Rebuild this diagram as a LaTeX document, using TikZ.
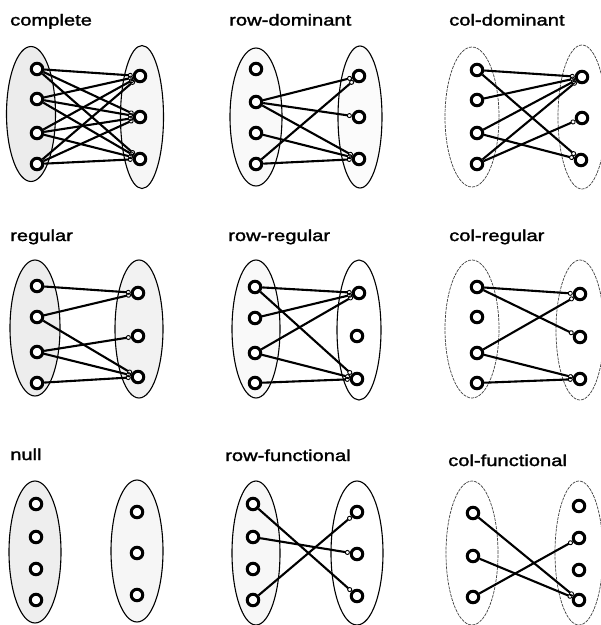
\documentclass[tikz,border=0pt]{standalone}
\usepackage{fontspec}
\newfontfamily\ttlfont[FakeStretch=1.26,FakeBold=1.8]{Liberation Sans}
\usetikzlibrary{arrows.meta}
\begin{document}
\begin{tikzpicture}[x=1pt,y=-1pt,
  vtx/.style={circle,draw,line width=3pt,minimum size=11.5pt,inner sep=0pt,fill=white},
  edge/.style={line width=2.1pt,-{Circle[open,length=5pt,width=5pt,line width=0.9pt]}},
  setA/.style={draw,line width=1.1pt},
  setB/.style={draw=black!75,line width=0.7pt,dash pattern=on 3pt off 1pt},
  ttl/.style={anchor=base west,inner sep=0pt,font=\ttlfont\fontsize{16}{19}\selectfont}]
\useasboundingbox (0,0) rectangle (601,625);
\clip (0,0) rectangle (601,625);

% ---------- complete ----------
\node[ttl] (t1) at (10,25.5) {complete};
\draw[setA,fill=gray!15] (31,114) ellipse [x radius=24.5pt,y radius=67.5pt];
\draw[setA,fill=gray!7] (142,117) ellipse [x radius=21.5pt,y radius=71.5pt];
\node[vtx] (a1) at (37,69) {};
\node[vtx] (a2) at (37,99) {};
\node[vtx] (a3) at (37,133) {};
\node[vtx] (a4) at (37,164) {};
\node[vtx] (b1) at (140,76) {};
\node[vtx] (b2) at (140,117) {};
\node[vtx] (b3) at (140,159) {};
\foreach \i in {1,...,4}{\foreach \j in {1,2,3}{\draw[edge] (a\i) -- (b\j);}}

% ---------- row-dominant ----------
\node[ttl] (t2) at (229,25.5) {row-dominant};
\draw[setA,fill=gray!5] (256,117) ellipse [x radius=26pt,y radius=69pt];
\draw[setA,fill=gray!3] (360,117) ellipse [x radius=22pt,y radius=71pt];
\node[vtx] (c1) at (256,69) {};
\node[vtx] (c2) at (256,102) {};
\node[vtx] (c3) at (256,133) {};
\node[vtx] (c4) at (256,164) {};
\node[vtx] (d1) at (359,76) {};
\node[vtx] (d2) at (359,117) {};
\node[vtx] (d3) at (359,159) {};
\draw[edge] (c2) -- (d1);
\draw[edge] (c2) -- (d2);
\draw[edge] (c2) -- (d3);
\draw[edge] (c3) -- (d3);
\draw[edge] (c4) -- (d1);
\draw[edge] (c4) -- (d3);

% ---------- col-dominant ----------
\node[ttl] (t3) at (449,25.5) {col-dominant};
\draw[setB] (472,117) ellipse [x radius=27pt,y radius=70pt];
\draw[setB] (582,117) ellipse [x radius=24pt,y radius=72pt];
\node[vtx] (e1) at (477,70) {};
\node[vtx] (e2) at (477,100) {};
\node[vtx] (e3) at (477,133) {};
\node[vtx] (e4) at (477,164) {};
\node[vtx] (f1) at (582,77) {};
\node[vtx] (f2) at (582,118) {};
\node[vtx] (f3) at (581,160) {};
\draw[edge] (e1) -- (f1);
\draw[edge] (e1) -- (f3);
\draw[edge] (e2) -- (f1);
\draw[edge] (e3) -- (f1);
\draw[edge] (e3) -- (f3);
\draw[edge] (e4) -- (f1);
\draw[edge] (e4) -- (f2);

% ---------- regular ----------
\node[ttl] (t4) at (10,241) {regular};
\draw[setA,fill=gray!14] (35,328) ellipse [x radius=25pt,y radius=68pt];
\draw[setA,fill=gray!10] (139,329) ellipse [x radius=24pt,y radius=69pt];
\node[vtx] (g1) at (37,286) {};
\node[vtx] (g2) at (37,317) {};
\node[vtx] (g3) at (37,352) {};
\node[vtx] (g4) at (37,383) {};
\node[vtx] (h1) at (138,293) {};
\node[vtx] (h2) at (138,336) {};
\node[vtx] (h3) at (138,377) {};
\draw[edge] (g1) -- (h1);
\draw[edge] (g2) -- (h1);
\draw[edge] (g2) -- (h3);
\draw[edge] (g3) -- (h2);
\draw[edge] (g3) -- (h3);
\draw[edge] (g4) -- (h3);

% ---------- row-regular ----------
\node[ttl] (t5) at (228,241) {row-regular};
\draw[setA,fill=gray!5] (256,329) ellipse [x radius=24pt,y radius=69pt];
\draw[setA] (359,330) ellipse [x radius=22pt,y radius=70pt];
\node[vtx] (i1) at (255,287) {};
\node[vtx] (i2) at (255,318) {};
\node[vtx] (i3) at (255,353) {};
\node[vtx] (i4) at (255,383) {};
\node[vtx] (j1) at (359,293) {};
\node[vtx] (j2) at (357,336) {};
\node[vtx] (j3) at (357,379) {};
\draw[edge] (i1) -- (j1);
\draw[edge] (i1) -- (j3);
\draw[edge] (i2) -- (j1);
\draw[edge] (i3) -- (j1);
\draw[edge] (i3) -- (j3);
\draw[edge] (i4) -- (j3);

% ---------- col-regular ----------
\node[ttl] (t6) at (449,241) {col-regular};
\draw[setB] (472,329) ellipse [x radius=27pt,y radius=69pt];
\draw[setB] (580,330) ellipse [x radius=24pt,y radius=70pt];
\node[vtx] (k1) at (477,287) {};
\node[vtx] (k2) at (477,317) {};
\node[vtx] (k3) at (477,353) {};
\node[vtx] (k4) at (477,383) {};
\node[vtx] (l1) at (580,294) {};
\node[vtx] (l2) at (580,337) {};
\node[vtx] (l3) at (580,379) {};
\draw[edge] (k1) -- (l1);
\draw[edge] (k1) -- (l2);
\draw[edge] (k3) -- (l1);
\draw[edge] (k3) -- (l3);
\draw[edge] (k4) -- (l3);

% ---------- null ----------
\node[ttl] (t7) at (10,460) {null};
\draw[setA,fill=gray!13] (35,552) ellipse [x radius=26pt,y radius=71pt];
\draw[setA,fill=gray!7] (137,551) ellipse [x radius=26pt,y radius=71pt];
\node[vtx] (m1) at (36,504) {};
\node[vtx] (m2) at (36,537) {};
\node[vtx] (m3) at (36,569) {};
\node[vtx] (m4) at (36,600) {};
\node[vtx] (n1) at (137,512) {};
\node[vtx] (n2) at (137,553) {};
\node[vtx] (n3) at (137,595) {};

% ---------- row-functional ----------
\node[ttl] (t8) at (225,461) {row-functional};
\draw[setA,fill=gray!6] (256,553) ellipse [x radius=24pt,y radius=72pt];
\draw[setA] (357,553) ellipse [x radius=26pt,y radius=72pt];
\node[vtx] (o1) at (253,504) {};
\node[vtx] (o2) at (253,537) {};
\node[vtx] (o3) at (253,569) {};
\node[vtx] (o4) at (253,600) {};
\node[vtx] (q1) at (357,512) {};
\node[vtx] (q2) at (357,554) {};
\node[vtx] (q3) at (357,596) {};
\draw[edge] (o1) -- (q3);
\draw[edge] (o2) -- (q2);
\draw[edge] (o4) -- (q1);

% ---------- col-functional ----------
\node[ttl] (t9) at (448,466) {col-functional};
\draw[setB] (472,553) ellipse [x radius=26pt,y radius=72pt];
\draw[setB] (579,553) ellipse [x radius=24pt,y radius=72pt];
\node[vtx] (r1) at (473,513) {};
\node[vtx] (r2) at (473,556) {};
\node[vtx] (r3) at (473,597) {};
\node[vtx] (s1) at (579,506) {};
\node[vtx] (s2) at (579,538) {};
\node[vtx] (s3) at (579,570) {};
\node[vtx] (s4) at (579,600) {};
\draw[edge] (r1) -- (s4);
\draw[edge] (r2) -- (s4);
\draw[edge] (r3) -- (s2);
\end{tikzpicture}
\end{document}
